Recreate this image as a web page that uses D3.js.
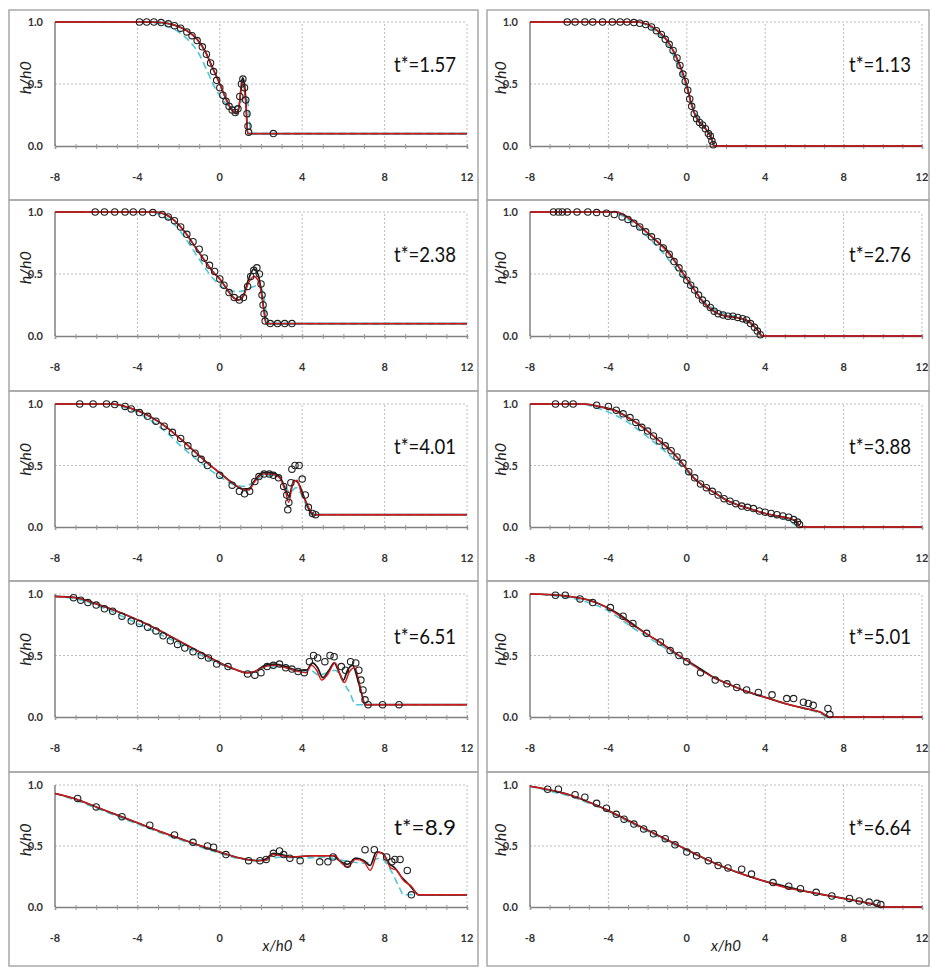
<!DOCTYPE html>
<html>
<head>
<style>
  body{
    margin: 0;
    background: white;
    font-family: Lato, 'Open Sans', sans-serif;
  }
</style>
</head>
<body>
<svg id='svgVis'></svg>

<script src="https://cdnjs.cloudflare.com/ajax/libs/d3/7.8.5/d3.min.js"></script>
<script>

// panel order: left column top->bottom, then right column top->bottom
var tLabels = ["1.57", "2.38", "4.01", "6.51", "8.9", "1.13", "2.76", "3.88", "5.01", "6.64"];

var xTicks = [-8, -4, 0, 4, 8, 12];
var yTicks = [0, 0.5, 1];

// black solid model
var blackLines = [
  [[-8,1],[-3.4,1],[-2.8,0.995],[-2.2,0.975],[-1.6,0.93],[-1.1,0.86],[-0.7,0.76],[-0.35,0.63],[0,0.5],[0.3,0.38],[0.55,0.3],[0.8,0.26],[0.92,0.3],[1.02,0.45],[1.1,0.55],[1.18,0.52],[1.27,0.35],[1.35,0.1],[12,0.1]],
  [[-8,1],[-3.2,1],[-2.7,0.985],[-2.2,0.93],[-1.7,0.84],[-1.2,0.72],[-0.7,0.6],[-0.3,0.51],[0,0.46],[0.3,0.39],[0.6,0.32],[0.9,0.29],[1.15,0.33],[1.4,0.46],[1.65,0.54],[1.85,0.5],[2.0,0.38],[2.15,0.2],[2.25,0.1],[12,0.1]],
  [[-8,1],[-5.2,1],[-4.6,0.98],[-3.9,0.94],[-3.2,0.88],[-2.5,0.8],[-1.8,0.7],[-1.2,0.61],[-0.6,0.52],[0,0.44],[0.6,0.36],[1.1,0.31],[1.4,0.31],[1.7,0.38],[2.1,0.44],[2.5,0.44],[2.9,0.41],[3.2,0.3],[3.35,0.25],[3.6,0.38],[3.8,0.36],[4.1,0.24],[4.4,0.12],[4.55,0.1],[12,0.1]],
  [[-8,0.98],[-7,0.97],[-6,0.92],[-5,0.86],[-4,0.79],[-3,0.71],[-2,0.62],[-1,0.53],[0,0.44],[0.7,0.39],[1.3,0.36],[1.7,0.37],[2.2,0.42],[2.7,0.43],[3.2,0.41],[3.8,0.38],[4.2,0.38],[4.5,0.44],[4.75,0.4],[5.0,0.32],[5.3,0.38],[5.55,0.44],[5.8,0.36],[6.0,0.3],[6.2,0.38],[6.45,0.42],[6.7,0.3],[6.9,0.18],[7.05,0.1],[12,0.1]],
  [[-8,0.93],[-7,0.885],[-6,0.82],[-5,0.755],[-4,0.69],[-3,0.625],[-2,0.565],[-1,0.505],[0,0.45],[1,0.4],[1.8,0.38],[2.2,0.39],[2.6,0.44],[3.0,0.43],[3.5,0.41],[4.5,0.42],[5.5,0.42],[5.8,0.38],[6.2,0.35],[6.6,0.4],[7.0,0.38],[7.3,0.34],[7.6,0.45],[7.9,0.44],[8.2,0.36],[8.5,0.32],[8.8,0.25],[9.2,0.18],[9.5,0.12],[9.65,0.1],[12,0.1]],
  [[-8,1],[-2.5,1],[-2.0,0.98],[-1.5,0.93],[-1.0,0.85],[-0.6,0.74],[-0.3,0.63],[0,0.49],[0.2,0.36],[0.4,0.26],[0.6,0.2],[0.85,0.16],[1.05,0.12],[1.2,0.08],[1.3,0.04],[1.38,0],[12,0]],
  [[-8,1],[-3.6,1],[-3.05,0.96],[-2.5,0.9],[-2.0,0.83],[-1.5,0.76],[-1.0,0.69],[-0.6,0.6],[-0.3,0.53],[0,0.46],[0.4,0.37],[0.8,0.28],[1.2,0.22],[1.6,0.18],[2.0,0.16],[2.5,0.15],[3.0,0.13],[3.3,0.1],[3.6,0.05],[3.85,0],[12,0]],
  [[-8,1],[-5.2,1],[-4.5,0.98],[-3.6,0.945],[-3.0,0.89],[-2.5,0.84],[-2.0,0.78],[-1.4,0.7],[-0.8,0.62],[-0.35,0.54],[0,0.47],[0.35,0.4],[0.8,0.34],[1.2,0.3],[1.6,0.26],[2.0,0.22],[2.6,0.18],[3.2,0.15],[4.0,0.11],[4.6,0.09],[5.2,0.07],[5.6,0.04],[5.8,0],[12,0]],
  [[-8,1],[-7,0.995],[-6,0.98],[-5,0.95],[-4.2,0.9],[-3.5,0.84],[-2.8,0.76],[-2,0.67],[-1.2,0.59],[-0.5,0.51],[0,0.46],[0.7,0.39],[1.4,0.32],[2.1,0.27],[3,0.21],[4,0.16],[5,0.11],[6,0.07],[6.8,0.04],[7.3,0],[12,0]],
  [[-8,0.99],[-7,0.96],[-6,0.92],[-5,0.86],[-4,0.79],[-3,0.71],[-2,0.63],[-1,0.55],[0,0.47],[1,0.39],[2,0.32],[3,0.26],[4,0.21],[5,0.17],[6,0.13],[7,0.1],[8,0.07],[9,0.04],[9.6,0.02],[10,0],[12,0]]
];

// red solid model
var redLines = [
  [[-8,1],[-3.4,1],[-2.8,0.995],[-2.2,0.975],[-1.6,0.93],[-1.1,0.86],[-0.7,0.76],[-0.35,0.63],[0,0.5],[0.3,0.38],[0.55,0.3],[0.8,0.27],[0.93,0.32],[1.03,0.45],[1.1,0.51],[1.18,0.47],[1.28,0.3],[1.36,0.1],[12,0.1]],
  [[-8,1],[-3.2,1],[-2.7,0.985],[-2.2,0.93],[-1.7,0.84],[-1.2,0.72],[-0.7,0.6],[-0.3,0.51],[0,0.46],[0.3,0.39],[0.6,0.32],[0.9,0.29],[1.15,0.32],[1.4,0.43],[1.65,0.48],[1.85,0.45],[2.0,0.36],[2.15,0.2],[2.25,0.1],[12,0.1]],
  [[-8,1],[-5.2,1],[-4.6,0.98],[-3.9,0.94],[-3.2,0.88],[-2.5,0.8],[-1.8,0.7],[-1.2,0.61],[-0.6,0.52],[0,0.44],[0.6,0.36],[1.1,0.31],[1.4,0.3],[1.7,0.37],[2.1,0.43],[2.5,0.43],[2.9,0.4],[3.2,0.28],[3.35,0.2],[3.55,0.36],[3.75,0.38],[3.95,0.28],[4.2,0.2],[4.45,0.12],[4.6,0.1],[12,0.1]],
  [[-8,0.98],[-7,0.97],[-6,0.92],[-5,0.86],[-4,0.79],[-3,0.71],[-2,0.62],[-1,0.53],[0,0.44],[0.7,0.39],[1.3,0.36],[1.7,0.37],[2.2,0.41],[2.7,0.42],[3.2,0.4],[3.8,0.37],[4.2,0.36],[4.45,0.42],[4.7,0.38],[4.95,0.3],[5.25,0.35],[5.6,0.44],[5.85,0.34],[6.05,0.28],[6.3,0.37],[6.55,0.4],[6.8,0.26],[7.0,0.12],[7.1,0.1],[12,0.1]],
  [[-8,0.93],[-7,0.885],[-6,0.82],[-5,0.755],[-4,0.69],[-3,0.625],[-2,0.565],[-1,0.505],[0,0.45],[1,0.4],[1.8,0.38],[2.2,0.38],[2.6,0.43],[3.0,0.42],[3.5,0.41],[4.5,0.42],[5.6,0.42],[5.9,0.36],[6.2,0.33],[6.6,0.39],[7.0,0.37],[7.3,0.3],[7.7,0.45],[8.0,0.42],[8.3,0.32],[8.6,0.3],[8.9,0.22],[9.3,0.17],[9.65,0.1],[12,0.1]],
  [[-8,1],[-2.5,1],[-2.0,0.98],[-1.5,0.93],[-1.0,0.85],[-0.6,0.74],[-0.3,0.62],[0,0.48],[0.2,0.35],[0.4,0.26],[0.6,0.2],[0.85,0.16],[1.05,0.12],[1.2,0.08],[1.3,0.04],[1.38,0],[12,0]],
  [[-8,1],[-3.6,1],[-3.05,0.96],[-2.5,0.9],[-2.0,0.83],[-1.5,0.76],[-1.0,0.68],[-0.6,0.6],[-0.3,0.53],[0,0.46],[0.4,0.37],[0.8,0.28],[1.2,0.22],[1.6,0.18],[2.0,0.16],[2.5,0.15],[3.0,0.13],[3.3,0.1],[3.6,0.05],[3.85,0],[12,0]],
  [[-8,1],[-5.2,1],[-4.5,0.98],[-3.6,0.94],[-3.0,0.89],[-2.5,0.84],[-2.0,0.78],[-1.4,0.7],[-0.8,0.62],[-0.35,0.54],[0,0.47],[0.35,0.4],[0.8,0.34],[1.2,0.3],[1.6,0.26],[2.0,0.22],[2.6,0.18],[3.2,0.15],[4.0,0.11],[4.6,0.09],[5.2,0.07],[5.6,0.05],[5.8,0],[12,0]],
  [[-8,1],[-7,0.995],[-6,0.98],[-5,0.95],[-4.2,0.9],[-3.5,0.83],[-2.8,0.75],[-2,0.67],[-1.2,0.59],[-0.5,0.51],[0,0.46],[0.7,0.38],[1.4,0.32],[2.1,0.27],[3,0.21],[4,0.16],[5,0.11],[6,0.07],[6.8,0.04],[7.3,0],[12,0]],
  [[-8,0.99],[-7,0.96],[-6,0.92],[-5,0.86],[-4,0.79],[-3,0.71],[-2,0.63],[-1,0.55],[0,0.47],[1,0.39],[2,0.32],[3,0.26],[4,0.21],[5,0.16],[6,0.13],[7,0.1],[8,0.07],[9,0.04],[9.6,0.02],[10,0],[12,0]]
];

// cyan dashed model
var cyanLines = [
  [[-8,1],[-3.6,1],[-2.8,0.98],[-2.1,0.93],[-1.5,0.85],[-1.0,0.74],[-0.6,0.6],[-0.2,0.46],[0.2,0.36],[0.6,0.31],[0.95,0.33],[1.2,0.4],[1.35,0.36],[1.48,0.14],[1.55,0.1],[12,0.1]],
  [[-8,1],[-3.4,1],[-2.8,0.97],[-2.2,0.9],[-1.6,0.77],[-1.0,0.62],[-0.5,0.5],[0,0.41],[0.5,0.36],[1.0,0.36],[1.5,0.39],[1.9,0.41],[2.1,0.35],[2.3,0.14],[2.38,0.1],[12,0.1]],
  [[-8,1],[-5.4,1],[-4.8,0.98],[-4.0,0.93],[-3.3,0.86],[-2.6,0.77],[-1.9,0.66],[-1.2,0.56],[-0.6,0.48],[0,0.41],[0.6,0.35],[1.2,0.33],[1.7,0.37],[2.2,0.42],[2.7,0.42],[3.1,0.36],[3.4,0.28],[3.7,0.32],[4.0,0.25],[4.3,0.14],[4.45,0.1],[12,0.1]],
  [[-8,0.98],[-7,0.96],[-6,0.91],[-5,0.84],[-4,0.76],[-3,0.68],[-2,0.6],[-1,0.51],[0,0.43],[0.8,0.38],[1.5,0.36],[2.2,0.4],[3.0,0.41],[3.8,0.37],[4.4,0.38],[4.8,0.34],[5.2,0.36],[5.6,0.38],[6.0,0.28],[6.3,0.2],[6.6,0.1],[12,0.1]],
  [[-8,0.93],[-7,0.875],[-6,0.81],[-5,0.745],[-4,0.68],[-3,0.615],[-2,0.555],[-1,0.495],[0,0.44],[1,0.395],[2,0.38],[3,0.41],[4,0.4],[5,0.41],[6,0.38],[7,0.36],[7.8,0.4],[8.3,0.3],[8.6,0.2],[8.8,0.13],[8.9,0.1],[12,0.1]],
  [[-8,1],[-2.6,1],[-2.0,0.97],[-1.5,0.91],[-1.0,0.82],[-0.6,0.7],[-0.3,0.58],[0,0.46],[0.3,0.32],[0.6,0.22],[1.0,0.14],[1.3,0.06],[1.45,0],[12,0]],
  [[-8,1],[-3.8,1],[-3.2,0.96],[-2.6,0.89],[-2.0,0.8],[-1.5,0.72],[-1.0,0.63],[-0.5,0.53],[0,0.44],[0.5,0.34],[1.0,0.26],[1.6,0.2],[2.2,0.17],[2.8,0.14],[3.3,0.09],[3.7,0.03],[3.85,0],[12,0]],
  [[-8,1],[-5.4,1],[-4.6,0.97],[-3.8,0.92],[-3.0,0.85],[-2.3,0.77],[-1.6,0.68],[-1.0,0.6],[-0.4,0.51],[0.2,0.42],[0.8,0.34],[1.5,0.27],[2.2,0.21],[3.0,0.16],[3.8,0.12],[4.6,0.08],[5.2,0.05],[5.6,0.01],[5.7,0],[12,0]],
  [[-8,1],[-7,0.99],[-6,0.97],[-5,0.93],[-4.2,0.88],[-3.5,0.81],[-2.8,0.73],[-2,0.65],[-1.2,0.57],[-0.5,0.5],[0,0.45],[0.7,0.38],[1.4,0.32],[2.1,0.27],[3,0.21],[4,0.16],[5,0.11],[6,0.07],[6.8,0.03],[7.2,0],[12,0]],
  [[-8,0.99],[-7,0.95],[-6,0.91],[-5,0.85],[-4,0.78],[-3,0.7],[-2,0.62],[-1,0.54],[0,0.46],[1,0.39],[2,0.32],[3,0.26],[4,0.21],[5,0.17],[6,0.13],[7,0.1],[8,0.07],[9,0.04],[9.7,0.01],[10,0],[12,0]]
];

// experiment (open circles)
var expPoints = [
  [[-3.9,1],[-3.55,1],[-3.2,1],[-2.85,0.995],[-2.5,0.985],[-2.2,0.97],[-1.9,0.95],[-1.6,0.92],[-1.35,0.89],[-1.1,0.85],[-0.85,0.8],[-0.65,0.74],[-0.45,0.67],[-0.3,0.6],[-0.15,0.53],[0.0,0.47],[0.15,0.41],[0.3,0.36],[0.45,0.32],[0.6,0.29],[0.75,0.27],[0.88,0.3],[0.97,0.4],[1.05,0.5],[1.12,0.54],[1.2,0.47],[1.26,0.37],[1.32,0.26],[1.37,0.16],[1.4,0.11],[2.6,0.1]],
  [[-6.05,1],[-5.6,1],[-5.1,1],[-4.6,1],[-4.2,1],[-3.75,1],[-3.25,0.995],[-2.8,0.98],[-2.5,0.96],[-2.2,0.93],[-1.9,0.88],[-1.6,0.82],[-1.3,0.76],[-1.0,0.7],[-0.75,0.63],[-0.5,0.57],[-0.25,0.52],[0.0,0.46],[0.2,0.41],[0.45,0.35],[0.7,0.31],[0.95,0.29],[1.15,0.31],[1.35,0.4],[1.5,0.48],[1.65,0.53],[1.8,0.55],[1.92,0.5],[2.0,0.42],[2.05,0.33],[2.1,0.25],[2.15,0.18],[2.2,0.12],[2.45,0.1],[2.8,0.1],[3.15,0.1],[3.5,0.1]],
  [[-6.8,1],[-6.15,1],[-5.5,1],[-5.1,0.995],[-4.6,0.98],[-4.3,0.96],[-3.9,0.93],[-3.5,0.9],[-3.1,0.86],[-2.7,0.82],[-2.3,0.77],[-1.9,0.72],[-1.55,0.66],[-1.2,0.6],[-0.9,0.55],[-0.6,0.5],[0,0.42],[0.6,0.34],[0.95,0.29],[1.2,0.27],[1.45,0.29],[1.7,0.37],[1.9,0.41],[2.15,0.43],[2.4,0.43],[2.6,0.42],[2.85,0.4],[3.1,0.33],[3.25,0.26],[3.35,0.2],[3.3,0.14],[3.45,0.36],[3.5,0.47],[3.65,0.5],[3.85,0.5],[4.0,0.39],[4.15,0.26],[4.3,0.16],[4.5,0.11],[4.65,0.1]],
  [[-7.1,0.97],[-6.75,0.95],[-6.4,0.93],[-6.0,0.91],[-5.6,0.88],[-5.2,0.86],[-4.75,0.82],[-4.3,0.78],[-3.9,0.76],[-3.5,0.73],[-3.1,0.7],[-2.75,0.66],[-2.4,0.62],[-2.05,0.59],[-1.7,0.56],[-1.3,0.53],[-0.9,0.5],[-0.55,0.48],[-0.15,0.43],[0.4,0.41],[1.35,0.35],[1.7,0.34],[2.0,0.36],[2.3,0.41],[2.6,0.42],[2.9,0.43],[3.2,0.4],[3.5,0.39],[3.8,0.37],[4.1,0.36],[4.35,0.45],[4.55,0.5],[4.75,0.48],[5.1,0.45],[5.35,0.5],[5.55,0.49],[5.9,0.41],[6.1,0.38],[6.35,0.45],[6.6,0.44],[6.75,0.38],[6.85,0.3],[6.95,0.22],[7.05,0.14],[7.2,0.1],[7.9,0.1],[8.7,0.1]],
  [[-6.9,0.89],[-6.0,0.82],[-4.75,0.74],[-3.4,0.67],[-2.2,0.59],[-1.3,0.53],[-0.6,0.5],[-0.3,0.49],[0.3,0.43],[1.4,0.38],[1.95,0.38],[2.25,0.39],[2.6,0.44],[2.9,0.46],[3.1,0.43],[3.4,0.4],[3.9,0.38],[4.85,0.37],[5.25,0.37],[5.5,0.41],[6.2,0.35],[7.05,0.47],[7.5,0.47],[8.1,0.41],[8.35,0.37],[8.5,0.39],[8.75,0.39],[9.1,0.3],[9.3,0.1]],
  [[-6.1,1],[-5.7,1],[-5.2,1],[-4.8,1],[-4.3,1],[-3.8,1],[-3.4,1],[-3.05,1],[-2.7,0.995],[-2.4,0.99],[-2.1,0.98],[-1.8,0.96],[-1.55,0.93],[-1.3,0.9],[-1.1,0.86],[-0.9,0.82],[-0.7,0.77],[-0.5,0.71],[-0.35,0.65],[-0.2,0.58],[-0.08,0.52],[0.05,0.45],[0.15,0.38],[0.25,0.32],[0.38,0.26],[0.5,0.22],[0.65,0.19],[0.8,0.17],[0.95,0.14],[1.1,0.1],[1.2,0.08],[1.28,0.04],[1.35,0.01]],
  [[-6.8,1],[-6.55,1],[-6.35,1],[-6.1,1],[-5.6,1],[-5.05,1],[-4.6,0.995],[-4.1,0.99],[-3.7,0.98],[-3.3,0.96],[-3.0,0.94],[-2.7,0.91],[-2.4,0.88],[-2.1,0.84],[-1.8,0.8],[-1.5,0.76],[-1.2,0.71],[-0.9,0.66],[-0.65,0.6],[-0.4,0.55],[-0.2,0.5],[0,0.45],[0.2,0.41],[0.4,0.37],[0.6,0.33],[0.8,0.29],[1.0,0.26],[1.2,0.23],[1.4,0.2],[1.6,0.18],[1.85,0.17],[2.1,0.16],[2.35,0.16],[2.6,0.15],[2.85,0.14],[3.05,0.13],[3.25,0.1],[3.45,0.07],[3.6,0.04],[3.75,0.01]],
  [[-6.7,1],[-6.2,1],[-5.8,1],[-4.6,0.99],[-4.0,0.98],[-3.6,0.95],[-3.25,0.92],[-2.9,0.89],[-2.6,0.85],[-2.3,0.81],[-2.0,0.78],[-1.7,0.74],[-1.4,0.7],[-1.1,0.66],[-0.8,0.62],[-0.5,0.57],[-0.2,0.52],[0.1,0.45],[0.4,0.4],[0.7,0.35],[1.0,0.32],[1.3,0.29],[1.6,0.26],[1.9,0.23],[2.2,0.21],[2.5,0.19],[2.8,0.17],[3.1,0.16],[3.4,0.15],[3.7,0.13],[4.0,0.12],[4.3,0.11],[4.6,0.1],[4.9,0.09],[5.2,0.08],[5.45,0.06],[5.65,0.04],[5.75,0.02]],
  [[-6.7,0.99],[-6.2,0.99],[-5.45,0.96],[-4.8,0.93],[-3.9,0.89],[-3.25,0.82],[-2.75,0.76],[-2.05,0.68],[-1.35,0.61],[-0.85,0.54],[-0.4,0.5],[0,0.45],[0.7,0.36],[1.45,0.3],[2.05,0.27],[2.55,0.24],[3.05,0.22],[3.65,0.2],[4.35,0.18],[5.1,0.15],[5.45,0.15],[5.95,0.12],[6.2,0.11],[6.45,0.095],[7.2,0.07],[7.3,0.02]],
  [[-7.1,0.965],[-6.55,0.965],[-5.7,0.92],[-5.2,0.9],[-4.6,0.85],[-4.1,0.81],[-3.6,0.76],[-3.2,0.72],[-2.7,0.68],[-2.2,0.64],[-1.7,0.6],[-1.1,0.56],[-0.6,0.51],[0,0.45],[0.5,0.42],[1.1,0.38],[1.6,0.34],[2.1,0.32],[2.8,0.31],[3.3,0.27],[4.4,0.2],[5.2,0.17],[5.8,0.15],[6.6,0.12],[7.4,0.09],[8.3,0.07],[8.8,0.05],[9.3,0.04],[9.7,0.03],[9.9,0.02]]
];

var width = 931, height = 974;

var svg = d3.select("#svgVis")
    .attr("width", width)
    .attr("height", height);

// layout of the 5x2 grid of frames
var colPlot = [[55, 467], [530, 922]];
var colBox = [[9, 478], [487, 929]];
var rowPlot = [[22, 146], [212, 336], [404, 527], [594, 717], [785, 907]];
var rowBox = [10, 200, 391, 581, 772, 966];
var xLabelAt = [2.8, 2.0];

var tickFont = "Lato, 'Open Sans', sans-serif";

function drawPanel(i) {
  var col = Math.floor(i / 5), row = i % 5;

  var x = d3.scaleLinear().domain([-8, 12]).range(colPlot[col]);
  var y = d3.scaleLinear().domain([0, 1]).range([rowPlot[row][1], rowPlot[row][0]]);

  var g = svg.append("g");

  g.append("rect")
    .attr("x", colBox[col][0])
    .attr("y", rowBox[row])
    .attr("width", colBox[col][1] - colBox[col][0])
    .attr("height", rowBox[row + 1] - rowBox[row])
    .attr("fill", "none")
    .attr("stroke", "#a8a8a8")
    .attr("stroke-width", 1.5);

  // dotted grid
  g.selectAll(".vgrid")
    .data(xTicks.slice(1))
    .enter().append("line")
    .attr("x1", function(d) { return x(d); })
    .attr("x2", function(d) { return x(d); })
    .attr("y1", y(0))
    .attr("y2", y(1))
    .attr("stroke", "#bdbdbd")
    .attr("stroke-dasharray", "2,2");

  g.selectAll(".hgrid")
    .data([0.5, 1])
    .enter().append("line")
    .attr("x1", x(-8))
    .attr("x2", x(12))
    .attr("y1", function(d) { return y(d); })
    .attr("y2", function(d) { return y(d); })
    .attr("stroke", "#bdbdbd")
    .attr("stroke-dasharray", "2,2");

  // axes
  var xAxis = d3.axisBottom(x).tickValues(d3.range(-8, 13, 1)).tickSize(3).tickFormat("");
  g.append("g")
    .attr("transform", "translate(0," + y(0) + ")")
    .call(xAxis)
    .call(function(a) {
      a.select(".domain").attr("stroke", "#808080").attr("stroke-width", 1.5);
      a.selectAll(".tick line").attr("stroke", "#999").attr("y1", -2);
    });

  g.append("line")
    .attr("x1", x(-8)).attr("x2", x(-8))
    .attr("y1", y(0)).attr("y2", y(1))
    .attr("stroke", "#808080")
    .attr("stroke-width", 1.5);

  g.selectAll(".xlab")
    .data(xTicks)
    .enter().append("text")
    .attr("x", function(d) { return x(d); })
    .attr("y", y(0) + 35)
    .attr("text-anchor", "middle")
    .style("font-family", tickFont)
    .style("font-size", "11px")
    .style("font-weight", "bold")
    .style("fill", "#333")
    .text(function(d) { return d; });

  g.selectAll(".ylab")
    .data(yTicks)
    .enter().append("text")
    .attr("x", x(-8) - 12)
    .attr("y", function(d) { return y(d) + 4; })
    .attr("text-anchor", "end")
    .style("font-family", tickFont)
    .style("font-size", "11px")
    .style("font-weight", "bold")
    .style("fill", "#333")
    .text(function(d) { return d3.format(".1f")(d); });

  g.append("text")
    .attr("transform", "translate(" + (x(-8) - 24) + "," + y(0.55) + ") rotate(-90)")
    .attr("text-anchor", "middle")
    .style("font-family", tickFont)
    .style("font-size", "16px")
    .style("font-style", "italic")
    .style("fill", "#222")
    .text("h/h0");

  if (row == 4) {
    g.append("text")
      .attr("x", x(xLabelAt[col]))
      .attr("y", y(0) + 44)
      .attr("text-anchor", "middle")
      .style("font-family", tickFont)
      .style("font-size", "15px")
      .style("font-style", "italic")
      .style("fill", "#222")
      .text("x/h0");
  }

  var line = d3.line()
    .x(function(d) { return x(d[0]); })
    .y(function(d) { return y(d[1]); })
    .curve(d3.curveMonotoneX);

  g.append("path")
    .attr("d", line(cyanLines[i]))
    .attr("fill", "none")
    .attr("stroke", "#4cc8d8")
    .attr("stroke-width", 1.6)
    .attr("stroke-dasharray", "7,4");

  g.append("path")
    .attr("d", line(blackLines[i]))
    .attr("fill", "none")
    .attr("stroke", "#1a1a1a")
    .attr("stroke-width", 1.7);

  g.append("path")
    .attr("d", line(redLines[i]))
    .attr("fill", "none")
    .attr("stroke", "#d81818")
    .attr("stroke-width", 1.4);

  g.selectAll(".exp")
    .data(expPoints[i])
    .enter().append("circle")
    .attr("cx", function(d) { return x(d[0]); })
    .attr("cy", function(d) { return y(d[1]); })
    .attr("r", 3.2)
    .attr("fill", "none")
    .attr("stroke", "#222")
    .attr("stroke-width", 1.1);

  g.append("text")
    .attr("x", colPlot[col][1] - 11)
    .attr("y", y(1) + 50)
    .attr("text-anchor", "end")
    .attr("textLength", 62)
    .attr("lengthAdjust", "spacingAndGlyphs")
    .style("font-family", tickFont)
    .style("font-size", "22px")
    .style("fill", "#111")
    .text("t*=" + tLabels[i]);
}

for (var i = 0; i < tLabels.length; i++) {
  drawPanel(i);
}

</script>
</body>
</html>
